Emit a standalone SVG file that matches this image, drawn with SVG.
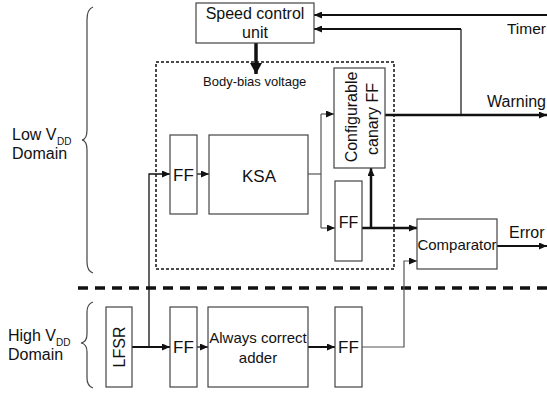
<svg xmlns="http://www.w3.org/2000/svg" width="547" height="394" viewBox="0 0 547 394">
<style>
text{font-family:"Liberation Sans",Arial,sans-serif;fill:#111}
.box{fill:#fff;stroke:#444;stroke-width:1.2}
.c{text-anchor:middle}
.w{fill:none;stroke:#111}
.g{fill:none;stroke:#555;stroke-width:1.2}
</style>
<defs>
<marker id="a" markerUnits="userSpaceOnUse" markerWidth="8" markerHeight="7" refX="8" refY="3.5" orient="auto"><path d="M0,0 L8,3.5 L0,7 z" fill="#111"/></marker>
<marker id="b" markerUnits="userSpaceOnUse" markerWidth="12" markerHeight="12" refX="11" refY="6" orient="auto"><path d="M0,0 L11,6 L0,12 z" fill="#111"/></marker>
</defs>
<g id="braces" fill="none" stroke="#444" stroke-width="1.2">
<path d="M93,7 Q87,9 87,20 V130 Q87,139 82,140 Q87,141 87,150 V262 Q87,271 93,273"/>
<path d="M93,302 Q87,304 87,312 V334 Q87,342 81,343 Q87,344 87,352 V378 Q87,386 93,388"/>
</g>
<g id="domain-labels">
<text x="12" y="140" font-size="16">Low V</text>
<text x="57" y="144.5" font-size="10">DD</text>
<text x="12" y="159" font-size="16">Domain</text>
<text x="8" y="341" font-size="16">High V</text>
<text x="56" y="345.5" font-size="10">DD</text>
<text x="8" y="360" font-size="16">Domain</text>
</g>
<line id="domain-divider" x1="78" y1="288" x2="547" y2="288" stroke="#111" stroke-width="3.5" stroke-dasharray="10,7"/>
<rect id="low-vdd-region" x="156" y="62" width="238" height="207" fill="none" stroke="#111" stroke-width="1.5" stroke-dasharray="3,2"/>
<text x="203" y="86" font-size="13">Body-bias voltage</text>
<g id="connectors">
<path class="w" d="M547,15 H314" stroke-width="2" marker-end="url(#a)"/>
<path class="w" d="M461,115 V29" stroke="#555" stroke-width="1.2"/>
<path class="w" d="M461,29 H314" stroke-width="1.8" marker-end="url(#a)"/>
<path class="w" d="M385,115 H547" stroke-width="2.5" marker-end="url(#a)"/>
<path class="w" d="M256,43 V74" stroke-width="3.5" marker-end="url(#b)"/>
<path class="w" d="M149,347 V174 H170" stroke-width="1.3" marker-end="url(#a)"/>
<path class="w" d="M197,174 H209" stroke-width="1.3" marker-end="url(#a)"/>
<path class="g" d="M308,174 H321"/>
<path class="g" d="M321,114 V228"/>
<path class="g" d="M321,114 H334" marker-end="url(#a)"/>
<path class="g" d="M321,228 H335" marker-end="url(#a)"/>
<path class="w" d="M362,228 H417" stroke-width="2.5" marker-end="url(#a)"/>
<path class="w" d="M371,228 V168" stroke-width="2.5" marker-end="url(#a)"/>
<path class="w" d="M497,246 H547" stroke-width="2" marker-end="url(#a)"/>
<path class="w" d="M132,347 H170" stroke-width="2" marker-end="url(#a)"/>
<path class="w" d="M197,347 H208" stroke-width="1.3" marker-end="url(#a)"/>
<path class="w" d="M308,347 H335" stroke-width="2" marker-end="url(#a)"/>
<path class="g" d="M362,347 H404 V261 H417" marker-end="url(#a)"/>
</g>
<g id="speed-control"><rect class="box" x="196" y="3" width="118" height="40"/><text class="c" x="255" y="19" font-size="16">Speed control</text><text class="c" x="255" y="38" font-size="16">unit</text></g>
<g id="ff1"><rect class="box" x="170" y="135" width="27" height="79"/><text class="c" x="183.5" y="181" font-size="17">FF</text></g>
<g id="ksa"><rect class="box" x="209" y="135" width="99" height="79"/><text class="c" x="259" y="182" font-size="17">KSA</text></g>
<g id="canary-ff"><rect class="box" x="334" y="68" width="51" height="100"/><text class="c" font-size="16" transform="translate(357,117) rotate(-90)">Configurable</text><text class="c" font-size="16" transform="translate(378,119) rotate(-90)">canary FF</text></g>
<g id="ff-upper"><rect class="box" x="335" y="181" width="27" height="80"/><text class="c" x="348.5" y="228" font-size="16">FF</text></g>
<g id="comparator"><rect class="box" x="417" y="219" width="80" height="50"/><text class="c" x="457" y="250" font-size="15">Comparator</text></g>
<g id="lfsr"><rect class="box" x="106" y="307" width="26" height="80"/><text class="c" font-size="16" transform="translate(125,347) rotate(-90)">LFSR</text></g>
<g id="ff2"><rect class="box" x="170" y="307" width="27" height="80"/><text class="c" x="183.5" y="353" font-size="17">FF</text></g>
<g id="adder"><rect class="box" x="208" y="307" width="100" height="80"/><text class="c" x="258" y="343" font-size="15">Always correct</text><text class="c" x="258" y="363" font-size="15">adder</text></g>
<g id="ff3"><rect class="box" x="335" y="307" width="27" height="80"/><text class="c" x="348.5" y="353" font-size="17">FF</text></g>
<g id="io-labels">
<text x="546" y="34" font-size="15.5" text-anchor="end">Timer</text>
<text x="546" y="107" font-size="16" text-anchor="end">Warning</text>
<text x="509" y="238" font-size="16">Error</text>
</g>
</svg>
